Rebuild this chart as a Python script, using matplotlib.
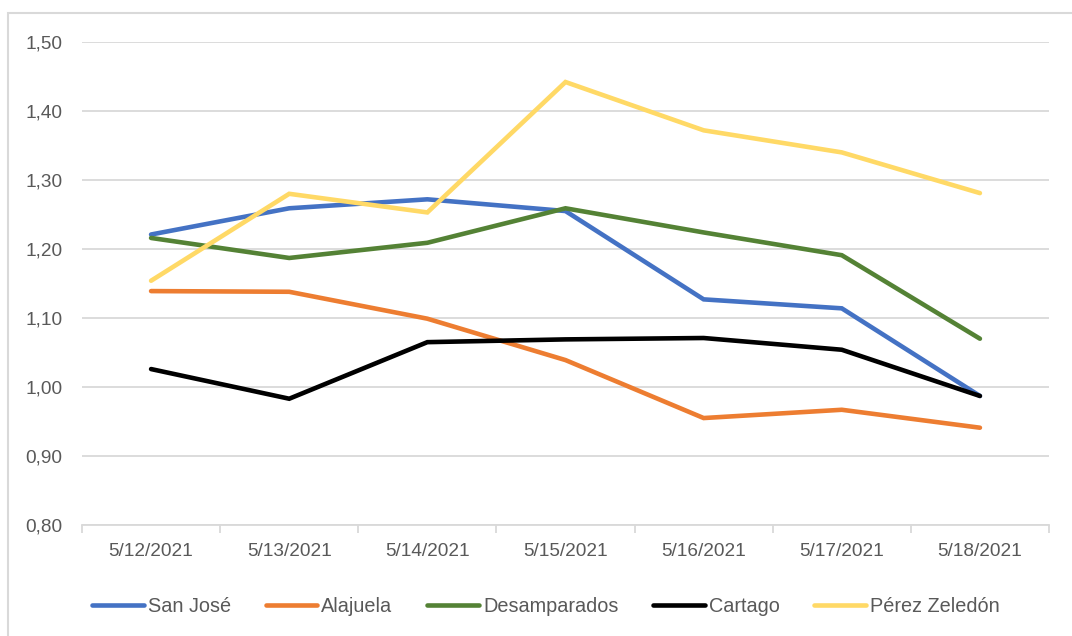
import numpy as np
import matplotlib
matplotlib.use('Agg')
import matplotlib.pyplot as plt
from matplotlib.ticker import FuncFormatter, FixedLocator
from matplotlib.patches import Rectangle

plt.rcParams['font.family'] = ['Liberation Sans', 'DejaVu Sans']

# data
dates = ['5/12/2021', '5/13/2021', '5/14/2021', '5/15/2021', '5/16/2021', '5/17/2021', '5/18/2021']
san_jose = [1.221, 1.259, 1.272, 1.255, 1.127, 1.114, 0.987]
alajuela = [1.139, 1.138, 1.099, 1.039, 0.955, 0.967, 0.941]
desamparados = [1.216, 1.187, 1.209, 1.259, 1.224, 1.191, 1.070]
cartago = [1.026, 0.983, 1.065, 1.069, 1.071, 1.054, 0.987]
perez_zeledon = [1.154, 1.280, 1.253, 1.442, 1.372, 1.340, 1.281]

series = [
    ('San José', san_jose, '#4472C4'),
    ('Alajuela', alajuela, '#ED7D31'),
    ('Desamparados', desamparados, '#548235'),
    ('Cartago', cartago, '#000000'),
    ('Pérez Zeledón', perez_zeledon, '#FFD966'),
]

W, H = 1072, 636
fig = plt.figure(figsize=(W / 100, H / 100), dpi=100)
ax = fig.add_axes([82 / W, 1 - 525 / H, (1049 - 82) / W, (525 - 42) / H])

# chart frame (right / bottom edges fall outside the picture)
fig.patches.append(Rectangle((8 / W, -0.1), 1.2, 1 - 13 / H + 0.1, transform=fig.transFigure,
                             fill=False, edgecolor='#D9D9D9', linewidth=1.5))

x = np.arange(len(dates))
for name, vals, color in series:
    ax.plot(x, vals, color=color, linewidth=3.3, label=name, solid_capstyle='round',
            solid_joinstyle='miter')

ax.set_xlim(-0.5, len(dates) - 0.5)
ax.set_ylim(0.80, 1.50)
ax.set_yticks(np.arange(0.80, 1.501, 0.10))
ax.yaxis.set_major_formatter(FuncFormatter(lambda v, p: f'{v:.2f}'.replace('.', ',')))
ax.grid(axis='y', color='#D9D9D9', linewidth=1.3)
ax.set_axisbelow(True)

ax.set_xticks(x)
ax.set_xticklabels(dates)
ax.xaxis.set_minor_locator(FixedLocator(np.arange(-0.5, len(dates), 1.0)))
ax.tick_params(axis='x', which='major', length=0, pad=13, labelsize=13.7, labelcolor='#595959')
ax.tick_params(axis='x', which='minor', length=6, width=1.3, color='#D9D9D9')
ax.tick_params(axis='y', length=0, pad=14, labelsize=13.7, labelcolor='#595959')

for side in ['top', 'right', 'left']:
    ax.spines[side].set_visible(False)
ax.spines['bottom'].set_color('#D9D9D9')
ax.spines['bottom'].set_linewidth(1.3)

fig.legend(loc='center', bbox_to_anchor=(546 / W, 1 - 606 / H), ncol=5, frameon=False,
           fontsize=14.3, handlelength=2.6, handletextpad=0.2, columnspacing=1.75,
           labelcolor='#595959')

fig.savefig('out.png', dpi=100)
